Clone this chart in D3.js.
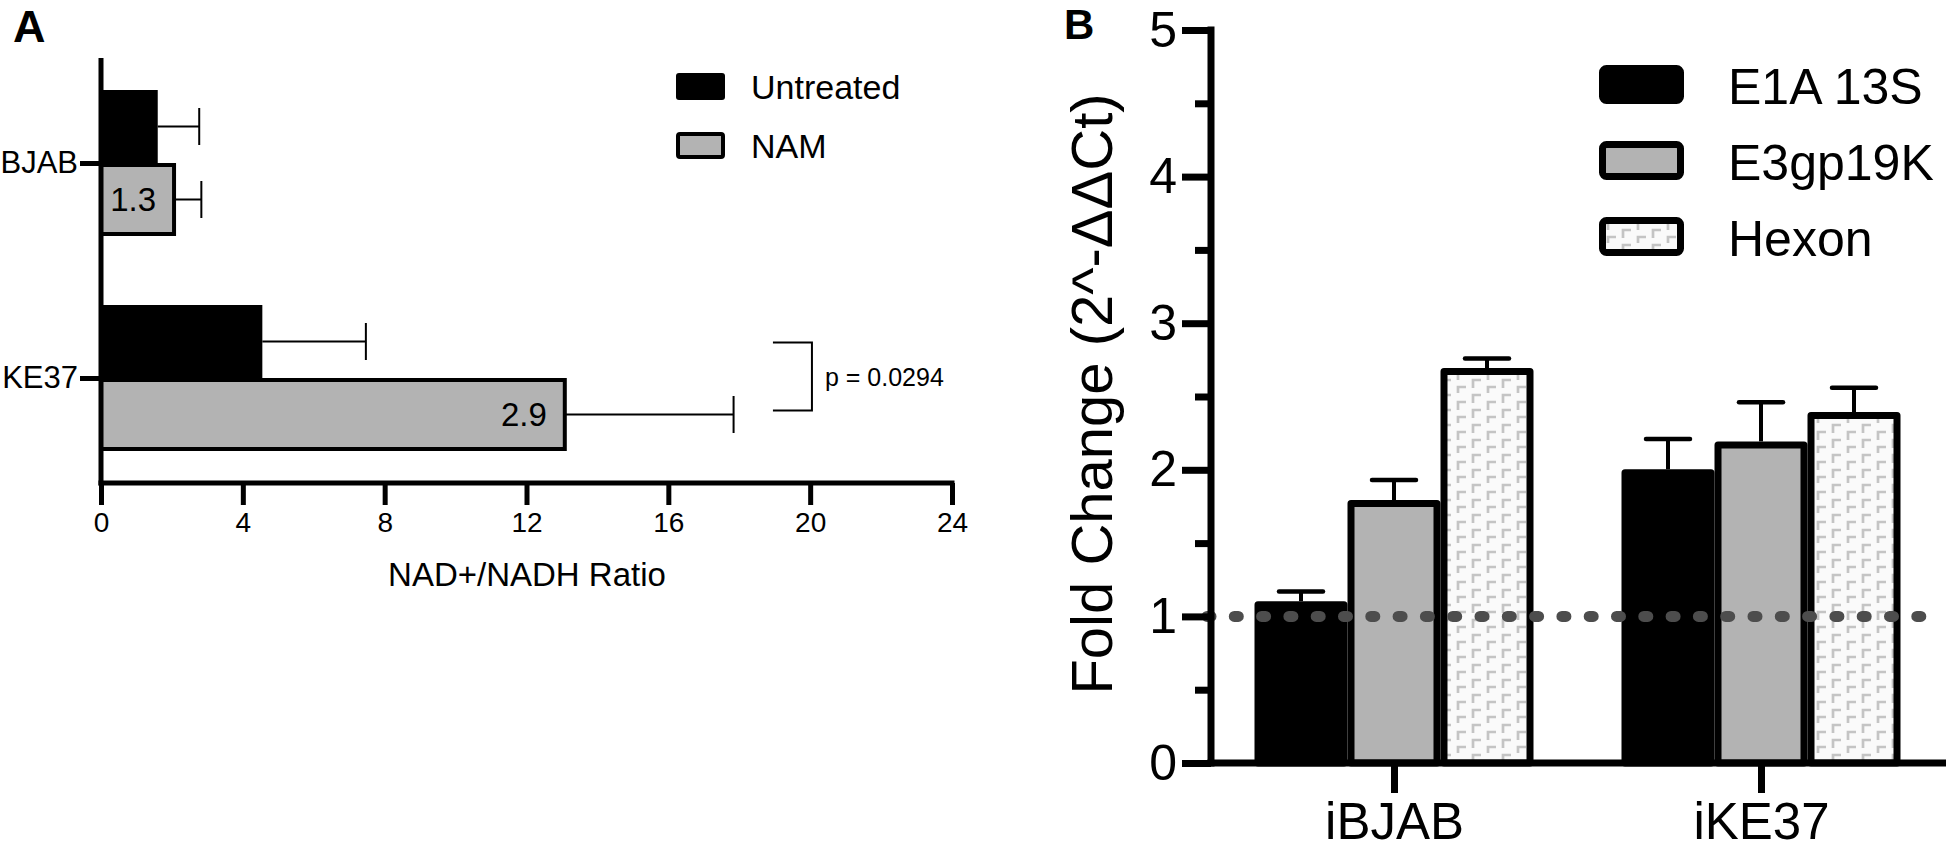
<!DOCTYPE html>
<html>
<head>
<meta charset="utf-8">
<script src="https://cdn.jsdelivr.net/npm/d3@7"></script>
<style>
  html, body { margin: 0; padding: 0; background: #fff; }
  svg { display: block; }
  text { font-family: "Liberation Sans", Arial, Helvetica, sans-serif; fill: #000; }
</style>
</head>
<body>
<svg id="chart" width="1946" height="850"></svg>
<script>
// ---------- Panel A data ----------
const catsA = ["BJAB", "KE37"];
const seriesA = ["Untreated", "NAM"];
const untreatedVals = [1.6, 4.55];
const untreatedErr = [1.17, 2.92];
const namVals = [2.06, 13.08];
const namErr = [0.77, 4.76];
const namLabels = ["1.3", "2.9"];
const ticksA = [0, 4, 8, 12, 16, 20, 24];
const pText = "p = 0.0294";

// ---------- Panel B data ----------
const groupsB = ["iBJAB", "iKE37"];
const seriesB = ["E1A 13S", "E3gp19K", "Hexon"];
const e1aVals = [1.08, 1.98];
const e1aErr = [0.09, 0.23];
const e3Vals = [1.77, 2.17];
const e3Err = [0.16, 0.29];
const hexonVals = [2.67, 2.37];
const hexonErr = [0.09, 0.19];
const ticksB = [0, 1, 2, 3, 4, 5];
const minorTicksB = [0.5, 1.5, 2.5, 3.5, 4.5];
const refLine = 1;

const svg = d3.select("#chart");
const GRAY = "#b3b3b3";

// ---------- pattern for Hexon ----------
const defs = svg.append("defs");
const pat = defs.append("pattern").attr("id", "hexPat")
  .attr("patternUnits", "userSpaceOnUse").attr("width", 30).attr("height", 30)
  .attr("x", 1) .attr("y", 3);
pat.append("rect").attr("width", 30).attr("height", 30).attr("fill", "#fafafa");
[[2, 2], [2, 17], [17, 9], [17, 24]].forEach(([px, py]) => {
  pat.append("path").attr("d", `M${px},${py + 8}V${py}H${px + 8}`)
    .attr("fill", "none").attr("stroke", "#c4c4c4").attr("stroke-width", 2.7);
});

// =================== PANEL A ===================
const gA = svg.append("g");
const xA = d3.scaleLinear().domain([0, 24]).range([101, 952]);
const yCenterA = d3.scalePoint().domain(catsA).range([163, 378]);
const subA = d3.scaleBand().domain(seriesA).range([-73, 73]);
const strokeA = 4;

gA.append("text").attr("x", 13).attr("y", 42).attr("font-size", 45)
  .attr("font-weight", "bold").text("A");

catsA.forEach((c, i) => {
  const yc = yCenterA(c);
  const yU = yc + subA("Untreated");
  gA.append("rect").attr("x", xA(0)).attr("y", yU)
    .attr("width", xA(untreatedVals[i]) - xA(0)).attr("height", subA.bandwidth())
    .attr("fill", "#000");
  const yN = yc + subA("NAM");
  gA.append("rect").attr("x", xA(0)).attr("y", yN + strokeA / 2)
    .attr("width", xA(namVals[i]) - xA(0)).attr("height", subA.bandwidth() - strokeA)
    .attr("fill", GRAY).attr("stroke", "#000").attr("stroke-width", strokeA);
  const drawErr = (v, e, yy) => {
    gA.append("line").attr("x1", xA(v)).attr("x2", xA(v + e)).attr("y1", yy).attr("y2", yy)
      .attr("stroke", "#000").attr("stroke-width", 2);
    gA.append("line").attr("x1", xA(v + e)).attr("x2", xA(v + e)).attr("y1", yy - 18.5).attr("y2", yy + 18.5)
      .attr("stroke", "#000").attr("stroke-width", 2);
  };
  drawErr(untreatedVals[i], untreatedErr[i], yU + subA.bandwidth() / 2);
  drawErr(namVals[i], namErr[i], yN + subA.bandwidth() / 2);
  gA.append("text").attr("x", xA(namVals[i]) - 18).attr("y", yN + subA.bandwidth() / 2)
    .attr("dy", "0.36em").attr("text-anchor", "end").attr("font-size", 33).text(namLabels[i]);
});

const xAxisA = d3.axisBottom(xA).tickValues(ticksA).tickSize(22).tickPadding(6);
const gxA = gA.append("g").attr("transform", "translate(0,483)").call(xAxisA);
gxA.select(".domain").attr("stroke-width", 5).attr("d", `M${xA(0) - 2.5},0H${xA(24) + 2.5}`);
gxA.selectAll(".tick line").attr("stroke-width", 5);
gxA.selectAll(".tick text").attr("font-size", 28).attr("y", 49).attr("dy", 0)
  .style("font-family", '"Liberation Sans", Arial, sans-serif');

const yAxisA = d3.axisLeft(d3.scalePoint().domain(catsA).range([163, 378])).tickSize(21).tickPadding(2);
const gyA = gA.append("g").attr("transform", `translate(${xA(0)},0)`).call(yAxisA);
gyA.select(".domain").attr("stroke-width", 5).attr("d", "M0,58V485.5");
gyA.selectAll(".tick line").attr("stroke-width", 5);
gyA.selectAll(".tick text").attr("font-size", 31).attr("x", -23)
  .style("font-family", '"Liberation Sans", Arial, sans-serif');

gA.append("text").attr("x", 527).attr("y", 586).attr("text-anchor", "middle")
  .attr("font-size", 33).text("NAD+/NADH Ratio");

const yb1 = yCenterA("KE37") + subA("Untreated") + subA.bandwidth() / 2 + 1;
const yb2 = yCenterA("KE37") + subA("NAM") + subA.bandwidth() / 2 - 4;
gA.append("path").attr("d", `M${xA(18.95)},${yb1}H${xA(20.05)}V${yb2}H${xA(18.95)}`)
  .attr("fill", "none").attr("stroke", "#000").attr("stroke-width", 2);
gA.append("text").attr("x", xA(20.05) + 13).attr("y", (yb1 + yb2) / 2).attr("dy", "0.36em")
  .attr("font-size", 25).text(pText);

const legA = gA.append("g");
seriesA.forEach((s, i) => {
  const y0 = 73 + i * 59;
  if (i === 0) {
    legA.append("rect").attr("x", 676).attr("y", y0).attr("width", 49).attr("height", 27)
      .attr("rx", 3).attr("fill", "#000");
  } else {
    legA.append("rect").attr("x", 678).attr("y", y0 + 2).attr("width", 45).attr("height", 23)
      .attr("rx", 2).attr("fill", GRAY).attr("stroke", "#000").attr("stroke-width", 4);
  }
  legA.append("text").attr("x", 751).attr("y", y0 + 13.5).attr("dy", "0.36em")
    .attr("font-size", 34).text(s);
});

// =================== PANEL B ===================
const gB = svg.append("g");
const yB = d3.scaleLinear().domain([0, 5]).range([763, 30]);
const xGroupB = d3.scalePoint().domain(groupsB).range([1394, 1761]);
const subB = d3.scaleBand().domain(seriesB).range([-139.5, 139.5]);
const strokeB = 7;
const valsB = [e1aVals, e3Vals, hexonVals];
const errsB = [e1aErr, e3Err, hexonErr];
const fillsB = ["#000", GRAY, "url(#hexPat)"];

gB.append("text").attr("x", 1064).attr("y", 39).attr("font-size", 42)
  .attr("font-weight", "bold").text("B");

groupsB.forEach((g, gi) => {
  seriesB.forEach((s, si) => {
    const x0 = xGroupB(g) + subB(s);
    const v = valsB[si][gi];
    gB.append("rect").attr("x", x0 + strokeB / 2).attr("y", yB(v))
      .attr("width", subB.bandwidth() - strokeB).attr("height", yB(0) - yB(v))
      .attr("fill", fillsB[si]).attr("stroke", "#000").attr("stroke-width", strokeB)
      .attr("stroke-linejoin", "round");
  });
});
groupsB.forEach((g, gi) => {
  seriesB.forEach((s, si) => {
    const xc = xGroupB(g) + subB(s) + subB.bandwidth() / 2;
    const v = valsB[si][gi], e = errsB[si][gi];
    gB.append("line").attr("x1", xc).attr("x2", xc).attr("y1", yB(v) - strokeB / 2).attr("y2", yB(v + e))
      .attr("stroke", "#000").attr("stroke-width", 4);
    gB.append("line").attr("x1", xc - 22).attr("x2", xc + 22).attr("y1", yB(v + e)).attr("y2", yB(v + e))
      .attr("stroke", "#000").attr("stroke-width", 4.5).attr("stroke-linecap", "round");
  });
});

gB.append("line").attr("x1", 1207).attr("x2", 1922).attr("y1", yB(refLine)).attr("y2", yB(refLine))
  .attr("stroke", "#4d4d4d").attr("stroke-width", 11).attr("stroke-linecap", "round")
  .attr("stroke-dasharray", "4 23.3");

const yAxisB = d3.axisLeft(yB).tickValues(ticksB).tickSize(29).tickPadding(5).tickFormat(d3.format("d"));
const gyB = gB.append("g").attr("transform", "translate(1211,0)").call(yAxisB);
gyB.select(".domain").attr("stroke-width", 7).attr("d", `M0,${yB(5) - 3.5}V${yB(0) + 3.5}`);
gyB.selectAll(".tick line").attr("stroke-width", 7);
gyB.selectAll(".tick text").attr("font-size", 50)
  .style("font-family", '"Liberation Sans", Arial, sans-serif');
const gyBm = gB.append("g").attr("transform", "translate(1211,0)")
  .call(d3.axisLeft(yB).tickValues(minorTicksB).tickSize(16).tickFormat(""));
gyBm.select(".domain").remove();
gyBm.selectAll(".tick line").attr("stroke-width", 7);

const xAxisB = d3.axisBottom(xGroupB).tickSize(30).tickPadding(14);
const gxB = gB.append("g").attr("transform", `translate(0,${yB(0)})`).call(xAxisB);
gxB.select(".domain").attr("stroke-width", 7).attr("d", "M1207.5,0H1950");
gxB.selectAll(".tick line").attr("stroke-width", 7);
gxB.selectAll(".tick text").attr("font-size", 51).attr("y", 76).attr("dy", 0)
  .style("font-family", '"Liberation Sans", Arial, sans-serif');

gB.append("text").attr("transform", "translate(1112,394) rotate(-90)")
  .attr("text-anchor", "middle").attr("font-size", 58).text("Fold Change (2^-\u0394\u0394Ct)");

const legB = gB.append("g");
seriesB.forEach((s, i) => {
  const y0 = 65 + i * 76;
  legB.append("rect").attr("x", 1599 + strokeB / 2).attr("y", y0 + strokeB / 2)
    .attr("width", 85 - strokeB).attr("height", 39 - strokeB).attr("rx", 4)
    .attr("fill", fillsB[i]).attr("stroke", "#000").attr("stroke-width", strokeB);
  legB.append("text").attr("x", 1728).attr("y", y0 + 21).attr("dy", "0.36em")
    .attr("font-size", 50).text(s);
});
</script>
</body>
</html>
